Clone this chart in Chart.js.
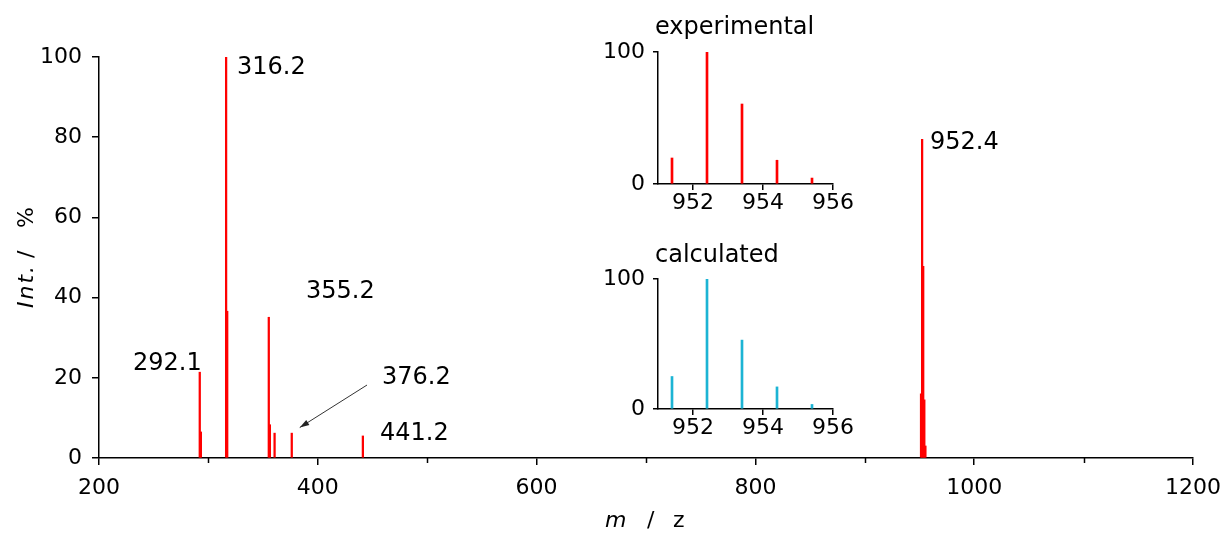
<!DOCTYPE html>
<html>
<head>
<meta charset="utf-8">
<script src="https://cdn.jsdelivr.net/npm/chart.js@4.4.0/dist/chart.umd.min.js"></script>
<style>
html, body { margin: 0; padding: 0; background: #fff; }
#wrap { position: relative; width: 1229px; height: 533px; overflow: hidden; }
canvas { position: absolute; }
</style>
</head>
<body>
<div id="wrap">
  <canvas id="main" width="1229" height="533" style="left:0;top:0"></canvas>
  <canvas id="exp" width="270" height="225" style="left:600px;top:0"></canvas>
  <canvas id="calc" width="270" height="225" style="left:600px;top:230px"></canvas>
</div>
<script>
// full spectrum (m/z, relative intensity %)
const mzMain  = [292.1, 293.1, 316.2, 317.2, 355.2, 356.2, 360.5, 376.2, 441.2, 951.4, 952.4, 953.4, 954.4, 955.4];
const intMain = [21.4, 6.5, 100, 36.6, 35.1, 8.3, 6.2, 6.2, 5.5, 16, 79.5, 47.8, 14.5, 3];

// isotope pattern around 952
const mzIso   = [951.4, 952.4, 953.4, 954.4, 955.4];
const intExp  = [19.7, 100, 60.6, 18, 4.5];
const intCalc = [25, 100, 53, 17, 3.5];

const peakLabels = ['292.1', '316.2', '355.2', '376.2', '441.2', '952.4'];
const xTicksMain = [200, 400, 600, 800, 1000, 1200];
const xMinorMain = [300, 500, 700, 900, 1100];
const yTicksMain = [0, 20, 40, 60, 80, 100];
const xTicksIso = [952, 954, 956];
const yTicksIso = [0, 100];

// where the peak labels / arrow sit, in data units
const labelAnchors = [[231.1, 23.4], [326.1, 97.4], [389.2, 41.4], [458.7, 20], [456.9, 6], [959.6, 78.7]];
const arrowFrom = [445, 18.2];
const arrowTo = [383.5, 7.6];

const FONT = 'DejaVu Sans';

function pts(xs, ys) {
    return xs.map((x, i) => ({ x: x, y: ys[i] }));
}

function axisGrid(len) {
    return { offset: false, drawOnChartArea: false, drawTicks: true, tickLength: len, color: '#000', lineWidth: 1.5 };
}

const mainText = {
    id: 'mainText',
    afterDraw(c) {
        const ctx = c.ctx, sx = c.scales.x, sy = c.scales.y;
        ctx.save();

        // minor ticks on m/z axis
        ctx.strokeStyle = '#000';
        ctx.lineWidth = 1.5;
        xMinorMain.forEach(v => {
            const px = Math.round(sx.getPixelForValue(v)) + 0.5;
            ctx.beginPath();
            ctx.moveTo(px, sx.top);
            ctx.lineTo(px, sx.top + 5);
            ctx.stroke();
        });

        ctx.fillStyle = '#000';
        ctx.font = '24px "' + FONT + '"';
        ctx.textBaseline = 'middle';
        peakLabels.forEach((t, i) => {
            ctx.fillText(t, sx.getPixelForValue(labelAnchors[i][0]), sy.getPixelForValue(labelAnchors[i][1]));
        });

        // arrow to 376.2
        const x0 = sx.getPixelForValue(arrowFrom[0]), y0 = sy.getPixelForValue(arrowFrom[1]);
        const x1 = sx.getPixelForValue(arrowTo[0]), y1 = sy.getPixelForValue(arrowTo[1]);
        ctx.strokeStyle = '#333';
        ctx.lineWidth = 1;
        ctx.beginPath();
        ctx.moveTo(x0, y0);
        ctx.lineTo(x1, y1);
        ctx.stroke();
        const a = Math.atan2(y1 - y0, x1 - x0);
        ctx.fillStyle = '#222';
        ctx.beginPath();
        ctx.moveTo(x1, y1);
        ctx.lineTo(x1 - 10 * Math.cos(a - 0.3), y1 - 10 * Math.sin(a - 0.3));
        ctx.lineTo(x1 - 10 * Math.cos(a + 0.3), y1 - 10 * Math.sin(a + 0.3));
        ctx.closePath();
        ctx.fill();

        // axis titles
        ctx.fillStyle = '#000';
        ctx.textBaseline = 'alphabetic';
        ctx.font = 'italic 22px "' + FONT + '"';
        ctx.fillText('m', 605, 527);
        ctx.font = '22px "' + FONT + '"';
        ctx.fillText('/', 647, 527);
        ctx.fillText('z', 673, 527);

        ctx.translate(33, 308);
        ctx.rotate(-Math.PI / 2);
        ctx.font = 'italic 22px "' + FONT + '"';
        ctx.letterSpacing = '2px';
        ctx.fillText('Int.', 0, 0);
        ctx.letterSpacing = '0px';
        ctx.font = '22px "' + FONT + '"';
        ctx.fillText('/', 50, 0);
        ctx.fillText('%', 80, 0);
        ctx.restore();
    }
};

new Chart(document.getElementById('main'), {
    type: 'bar',
    data: {
        datasets: [{
            data: pts(mzMain, intMain),
            backgroundColor: '#ff0000',
            barThickness: 1.6,
            grouped: false
        }]
    },
    options: {
        responsive: false,
        animation: false,
        devicePixelRatio: 1,
        layout: { padding: { left: 0, right: 36, top: 57, bottom: 0 } },
        plugins: { legend: { display: false }, tooltip: { enabled: false } },
        scales: {
            x: {
                type: 'linear', min: 200, max: 1200, offset: false,
                grid: axisGrid(7),
                border: { color: '#000', width: 1.5 },
                ticks: {
                    autoSkip: false, maxRotation: 0, padding: 10, color: '#000',
                    font: { family: FONT, size: 22 },
                    callback: v => String(v)
                },
                afterBuildTicks: s => { s.ticks = xTicksMain.map(v => ({ value: v })); },
                afterFit: s => { s.height = 75; s.paddingLeft = 0; s.paddingRight = 0; }
            },
            y: {
                min: 0, max: 100,
                grid: axisGrid(7),
                border: { color: '#000', width: 1.5 },
                ticks: { padding: 10, color: '#000', font: { family: FONT, size: 22 }, callback: v => String(v) },
                afterBuildTicks: s => { s.ticks = yTicksMain.map(v => ({ value: v })); },
                afterFit: s => { s.width = 99; s.paddingTop = 0; s.paddingBottom = 0; }
            }
        }
    },
    plugins: [mainText]
});

function makeInset(id, values, color, title, titleY, top, xHeight) {
    new Chart(document.getElementById(id), {
        type: 'bar',
        data: {
            datasets: [{
                data: pts(mzIso, values),
                backgroundColor: color,
                barThickness: 2,
                grouped: false
            }]
        },
        options: {
            responsive: false,
            animation: false,
            devicePixelRatio: 1,
            layout: { padding: { left: 0, right: 37, top: top, bottom: 0 } },
            plugins: { legend: { display: false }, tooltip: { enabled: false } },
            scales: {
                x: {
                    type: 'linear', min: 951, max: 956, offset: false,
                    grid: axisGrid(6),
                    border: { color: '#000', width: 1.5 },
                    ticks: { autoSkip: false, maxRotation: 0, padding: 0, color: '#000', font: { family: FONT, size: 22 }, callback: v => String(v) },
                    afterBuildTicks: s => { s.ticks = xTicksIso.map(v => ({ value: v })); },
                    afterFit: s => { s.height = xHeight; s.paddingLeft = 0; s.paddingRight = 0; }
                },
                y: {
                    min: 0, max: 100,
                    grid: axisGrid(5),
                    border: { color: '#000', width: 1.5 },
                    ticks: { padding: 8, color: '#000', font: { family: FONT, size: 22 }, callback: v => String(v) },
                    afterBuildTicks: s => { s.ticks = yTicksIso.map(v => ({ value: v })); },
                    afterFit: s => { s.width = 58; s.paddingTop = 0; s.paddingBottom = 0; }
                }
            }
        },
        plugins: [{
            id: 'insetTitle',
            afterDraw(c) {
                const ctx = c.ctx;
                ctx.save();
                ctx.fillStyle = '#000';
                ctx.font = '24px "' + FONT + '"';
                ctx.textBaseline = 'alphabetic';
                ctx.fillText(title, 55, titleY);
                ctx.restore();
            }
        }]
    });
}

makeInset('exp', intExp, '#ff0000', 'experimental', 34, 52, 41);
makeInset('calc', intCalc, '#1cb4d4', 'calculated', 32, 49, 46);
</script>
</body>
</html>
